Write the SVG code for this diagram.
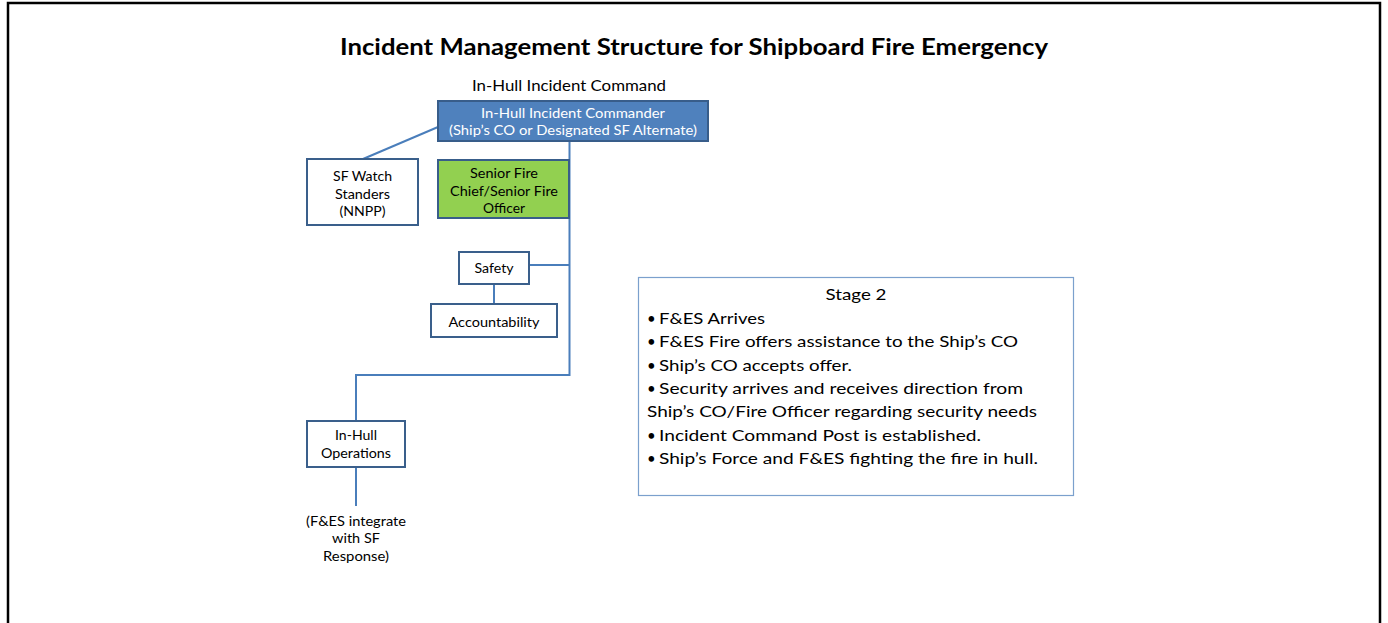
<svg xmlns="http://www.w3.org/2000/svg" width="1388" height="623" viewBox="0 0 1388 623">
<style>
text{font-family:"Lato","Liberation Sans",sans-serif;fill:#000}
.t{font-size:22px;font-weight:bold;text-anchor:middle}
.h{font-size:15px;text-anchor:middle}
.s{font-size:12.5px;text-anchor:middle}
.w{fill:#fff}
.b{font-size:15px}
.box{fill:#fff;stroke:#3A5F8B;stroke-width:2}
.con{fill:none;stroke:#4A7EBB;stroke-width:2}
</style>
<rect width="1388" height="623" fill="#fff"/>
<path d="M8 623V3H1380V623" fill="none" stroke="#000" stroke-width="2.5"/>
<text class="t" x="694" y="55" textLength="708" lengthAdjust="spacingAndGlyphs">Incident Management Structure for Shipboard Fire Emergency</text>
<text class="h" x="569" y="91" textLength="194" lengthAdjust="spacingAndGlyphs">In-Hull Incident Command</text>
<g id="connectors">
<path class="con" d="M438 127L363 159"/>
<path class="con" d="M569.5 141V375H356V421"/>
<path class="con" d="M529 265H569.5"/>
<path class="con" d="M494 284V304"/>
<path class="con" d="M356 467V506"/>
</g>
<g id="commander">
<rect x="438" y="101" width="270" height="40" fill="#4F81BD" stroke="#385D8A" stroke-width="2"/>
<text class="s w" x="573" y="118" textLength="184" lengthAdjust="spacingAndGlyphs">In-Hull Incident Commander</text>
<text class="s w" x="573" y="135" textLength="248" lengthAdjust="spacingAndGlyphs">(Ship’s CO or Designated SF Alternate)</text>
</g>
<g id="senior-fire">
<rect x="438" y="160" width="131" height="58" fill="#92D050" stroke="#385D8A" stroke-width="2"/>
<text class="s" x="504" y="178" textLength="68" lengthAdjust="spacingAndGlyphs">Senior Fire</text>
<text class="s" x="504" y="196" textLength="108" lengthAdjust="spacingAndGlyphs">Chief/Senior Fire</text>
<text class="s" x="504" y="213" textLength="42" lengthAdjust="spacingAndGlyphs">Officer</text>
</g>
<g id="sf-watch">
<rect class="box" x="307" y="159" width="111" height="66"/>
<text class="s" x="362.5" y="181" textLength="59" lengthAdjust="spacingAndGlyphs">SF Watch</text>
<text class="s" x="362.5" y="199" textLength="55" lengthAdjust="spacingAndGlyphs">Standers</text>
<text class="s" x="362.5" y="216" textLength="46" lengthAdjust="spacingAndGlyphs">(NNPP)</text>
</g>
<g id="safety">
<rect class="box" x="459" y="252" width="70" height="32"/>
<text class="s" x="494" y="273" textLength="39" lengthAdjust="spacingAndGlyphs">Safety</text>
</g>
<g id="accountability">
<rect class="box" x="431" y="304" width="126" height="33"/>
<text class="s" x="494" y="327" textLength="91" lengthAdjust="spacingAndGlyphs">Accountability</text>
</g>
<g id="operations">
<rect class="box" x="307" y="421" width="98" height="46"/>
<text class="s" x="356" y="440" textLength="42" lengthAdjust="spacingAndGlyphs">In-Hull</text>
<text class="s" x="356" y="458" textLength="70" lengthAdjust="spacingAndGlyphs">Operations</text>
</g>
<g id="integrate-note">
<text class="s" x="356" y="526" textLength="100" lengthAdjust="spacingAndGlyphs">(F&amp;ES integrate</text>
<text class="s" x="356" y="543" textLength="48" lengthAdjust="spacingAndGlyphs">with SF</text>
<text class="s" x="356" y="561" textLength="66" lengthAdjust="spacingAndGlyphs">Response)</text>
</g>
<g id="stage2">
<rect x="638.5" y="277.5" width="435" height="218" fill="#fff" stroke="#7BA0CD" stroke-width="1.2"/>
<text class="b" x="856" y="300" text-anchor="middle" textLength="61" lengthAdjust="spacingAndGlyphs">Stage 2</text>
<g class="b">
<text x="647" y="324">•</text><text x="659" y="324" textLength="106" lengthAdjust="spacingAndGlyphs">F&amp;ES Arrives</text>
<text x="647" y="347">•</text><text x="659" y="347" textLength="359" lengthAdjust="spacingAndGlyphs">F&amp;ES Fire offers assistance to the Ship’s CO</text>
<text x="647" y="371">•</text><text x="659" y="371" textLength="193" lengthAdjust="spacingAndGlyphs">Ship’s CO accepts offer.</text>
<text x="647" y="394">•</text><text x="659" y="394" textLength="364" lengthAdjust="spacingAndGlyphs">Security arrives and receives direction from</text>
<text x="647" y="417" textLength="390" lengthAdjust="spacingAndGlyphs">Ship’s CO/Fire Officer regarding security needs</text>
<text x="647" y="441">•</text><text x="659" y="441" textLength="322" lengthAdjust="spacingAndGlyphs">Incident Command Post is established.</text>
<text x="647" y="464">•</text><text x="659" y="464" textLength="379" lengthAdjust="spacingAndGlyphs">Ship’s Force and F&amp;ES fighting the fire in hull.</text>
</g>
</g>
</svg>
